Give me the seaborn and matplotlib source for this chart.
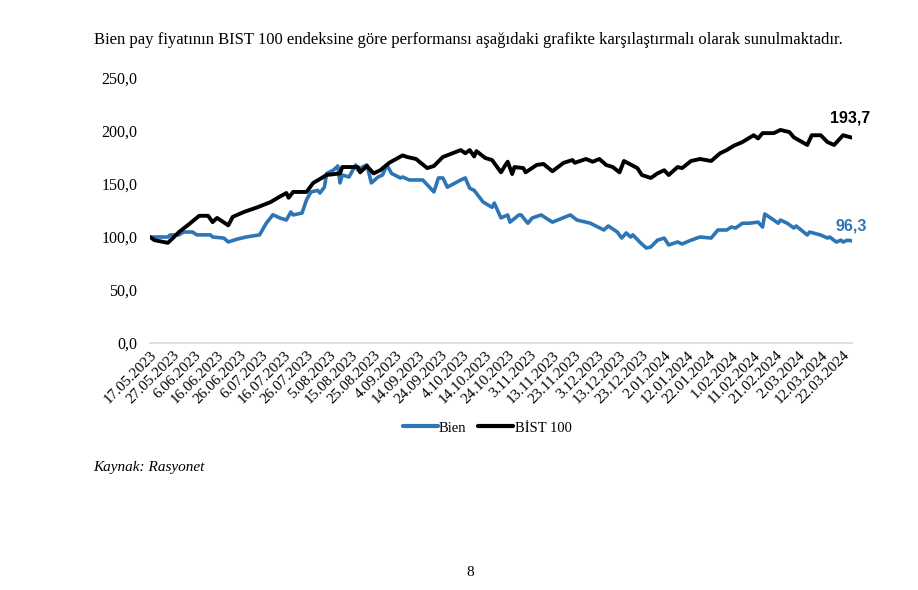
import numpy as np
import pandas as pd
import matplotlib
matplotlib.use("Agg")
import matplotlib.pyplot as plt
import seaborn as sns
from matplotlib.lines import Line2D

start_date = "2023-05-17"

bist_days = [0, 2, 8, 13, 18, 22, 26, 28, 30, 35, 37, 42, 48, 54, 58, 61, 62, 64, 70, 73,
             76, 79, 85, 86, 93, 94, 97, 100, 103, 107, 113, 115, 119, 124, 127, 131, 139,
             141, 143, 145, 146, 150, 153, 157, 159, 160, 162, 163, 167, 168, 173, 176, 180,
             185, 189, 190, 195, 198, 201, 204, 207, 210, 212, 218, 220, 224, 227, 230, 232,
             236, 238, 242, 246, 251, 255, 258, 261, 265, 270, 272, 274, 279, 282, 286, 288,
             294, 296, 300, 303, 306, 310, 314]
bist_vals = [100, 97, 94.5, 104.7, 113, 120, 120, 114, 118, 111, 119, 123.6, 128, 133, 138,
             141.5, 137, 142.5, 142.5, 151, 154.7, 158.5, 160, 166, 166, 161, 167, 160, 163,
             170, 177, 175.5, 173.6, 165, 167, 175.5, 182, 179, 182, 176, 181, 174.5, 172.6,
             161, 168, 171, 159.4, 166, 165, 161, 168, 168.9, 162, 170, 172.6, 170, 173.6,
             171, 173.6, 168, 166, 161, 171.7, 165, 158.5, 155.7, 160, 163, 158.5, 166, 165,
             171.7, 173.6, 171.7, 179, 182, 186, 189.6, 196, 193, 198, 198, 201, 199, 194,
             186.8, 196, 196, 189.6, 186.8, 196, 193.7]

bien_days = [0, 8, 9, 13, 15, 19, 21, 27, 28, 33, 35, 39, 43, 49, 52, 55, 58, 61, 63, 64,
             68, 70, 72, 75, 76, 78, 79, 82, 84, 85, 86, 89, 92, 93, 95, 97, 99, 102, 104,
             106, 108, 112, 113, 116, 122, 125, 127, 129, 131, 133, 139, 141, 143, 145, 149,
             153, 154, 157, 160, 161, 165, 166, 169, 171, 175, 177, 180, 188, 191, 195, 197,
             203, 205, 209, 211, 213, 215, 216, 219, 222, 224, 227, 230, 232, 236, 238, 242,
             246, 251, 254, 258, 260, 262, 265, 268, 272, 274, 275, 279, 281, 282, 285, 288,
             289, 294, 295, 300, 303, 304, 307, 309, 310, 312, 314]
bien_vals = [100, 100, 101.9, 102, 104.7, 104.7, 102, 102, 100, 99, 95.3, 98, 100, 102, 113,
             121, 118, 116, 123.6, 120.8, 122.6, 135, 142.5, 144, 141.5, 147, 160, 163, 167,
             151, 158.5, 156.6, 168, 163, 166, 168, 151, 156.6, 158.5, 168, 160, 155.7, 156.6,
             153.8, 153.8, 147, 142.5, 155.7, 155.7, 147, 153.8, 155.7, 146, 144, 133, 128,
             132, 118, 120.8, 114, 120.8, 120.8, 113, 118, 120.8, 118, 114, 120.8, 116, 114,
             113, 106.6, 110.4, 104.7, 99, 103.8, 100, 102, 95.3, 89.6, 90.6, 97, 99, 92.5,
             95.3, 93.4, 97, 100, 99, 106.6, 106.6, 109.4, 108.5, 113, 113, 114, 109.4, 121.7,
             116, 113, 116, 113, 108.5, 110.4, 101.9, 104.7, 101.9, 99, 100, 95.3, 97, 95.3,
             97, 96.3]

series_names = ["Bien", "BİST 100"]
series_colors = ["#2E75B6", "#000000"]
yticks = [0, 50, 100, 150, 200, 250]

t0 = pd.Timestamp(start_date)
bien_df = pd.DataFrame({"date": t0 + pd.to_timedelta(bien_days, unit="D"), "value": bien_vals,
                        "series": series_names[0]})
bist_df = pd.DataFrame({"date": t0 + pd.to_timedelta(bist_days, unit="D"), "value": bist_vals,
                        "series": series_names[1]})

sns.set_theme(style="white")
plt.rcParams['font.family'] = ['Liberation Serif', 'DejaVu Serif']
plt.rcParams['text.color'] = 'black'
plt.rcParams['xtick.color'] = 'black'
plt.rcParams['ytick.color'] = 'black'

fig = plt.figure(figsize=(9.18, 5.90), dpi=100)
ax = fig.add_axes([150/918, 1-343/590, (852-150)/918, (343-78)/590])

sns.lineplot(data=bist_df, x="date", y="value", color=series_colors[1], lw=2.8, ax=ax,
             legend=False, zorder=3)
sns.lineplot(data=bien_df, x="date", y="value", color=series_colors[0], lw=2.6, ax=ax,
             legend=False, zorder=2)

end_date = t0 + pd.Timedelta(days=314)
ax.set_xlim(t0, end_date)
ax.set_ylim(0, 250)
ax.set_yticks(yticks)
ax.set_yticklabels([f"{v:.1f}".replace(".", ",") for v in yticks], fontsize=11.5)
tick_dates = pd.date_range(t0, end_date, freq="10D")
ax.set_xticks(tick_dates)
ax.set_xticklabels([f"{d.day}.{d.month:02d}.{d.year}" for d in tick_dates],
                   rotation=45, ha="right", va="top", rotation_mode="anchor", fontsize=11)
ax.tick_params(axis="y", length=0, pad=9)
ax.tick_params(axis="x", length=0, pad=4)
for s in ["top", "right", "left"]:
    ax.spines[s].set_visible(False)
ax.spines["bottom"].set_color("#d9d9d9")
ax.spines["bottom"].set_linewidth(1.2)
ax.set_xlabel("")
ax.set_ylabel("")

# end labels
ax.annotate(f"{bist_vals[-1]:.1f}".replace(".", ","), (bist_df["date"].iloc[-1], bist_vals[-1]),
            xytext=(-16, 14), textcoords="offset points", fontsize=11.5, fontweight="bold",
            color=series_colors[1], family="Liberation Sans", ha="left", va="center")
ax.annotate(f"{bien_vals[-1]:.1f}".replace(".", ","), (bien_df["date"].iloc[-1], bien_vals[-1]),
            xytext=(-12, 11), textcoords="offset points", fontsize=11.5, fontweight="bold",
            color=series_colors[0], family="Liberation Sans", ha="left", va="center")

handles = [Line2D([], [], color=c, lw=3) for c in series_colors]
fig.legend(handles, series_names, loc="center", bbox_to_anchor=(487/918, 1-428/590),
           ncol=2, frameon=False, fontsize=10.5, handlelength=2.4, handletextpad=0.1,
           columnspacing=0.8)

fig.text(94/918, 1-40/590, "Bien pay fiyatının BIST 100 endeksine göre performansı aşağıdaki "
         "grafikte karşılaştırmalı olarak sunulmaktadır.", fontsize=12, ha="left", va="center")
fig.text(93/918, 1-467/590, "Kaynak: Rasyonet", fontsize=11, style="italic", ha="left",
         va="center")
fig.text(470/918, 1-572/590, "8", fontsize=11, ha="center", va="center")

fig.savefig("out.png", dpi=100, facecolor="white")
